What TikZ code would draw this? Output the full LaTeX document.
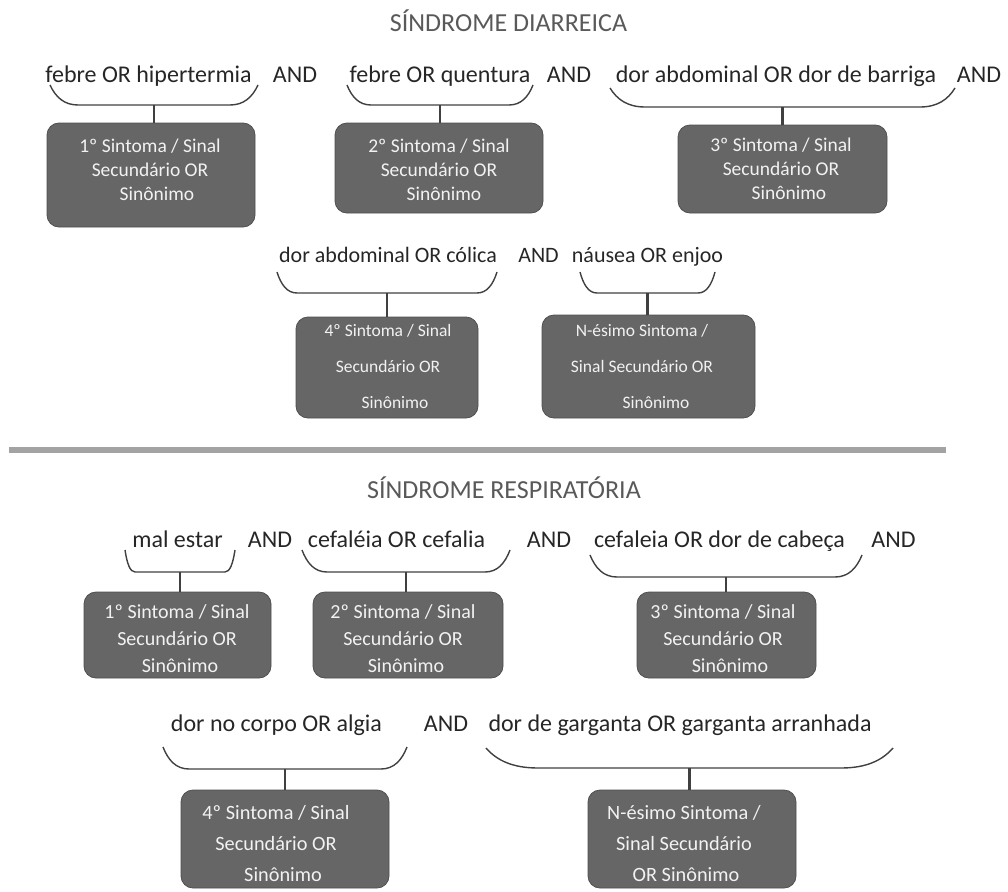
\documentclass[tikz,border=0pt]{standalone}
\usepackage{fontspec}
\setmainfont{Carlito}
\definecolor{boxfill}{HTML}{666666}
\definecolor{boxline}{HTML}{4F4F4F}
\definecolor{inkdark}{HTML}{262626}
\definecolor{titlegray}{HTML}{595959}
\definecolor{linegray}{HTML}{404040}
\definecolor{divgray}{HTML}{A3A3A3}
\definecolor{boxtextc}{HTML}{F2F2F2}
\newcommand\mybrc[6]{%
  \draw[bracel] (#2,#4) .. controls ({#2+0.2*#6},{#4+0.6*(#5-#4)}) and ({#2+0.5*#6},#5) .. ({#2+#6},#5)
     -- ({#3-#6},#5) .. controls ({#3-0.5*#6},#5) and ({#3-0.2*#6},{#4+0.6*(#5-#4)}) .. (#3,#4);
  \coordinate (#1) at ({(#2+#3)/2},#5);}
\begin{document}
\begin{tikzpicture}[x=1pt,y=-1pt,
  lab/.style={font=\fontsize{24}{28}\selectfont, text=inkdark, inner sep=0pt, anchor=base},
  labsmall/.style={lab, font=\fontsize{22}{26}\selectfont},
  ttl/.style={font=\fontsize{26}{30}\selectfont, text=titlegray, inner sep=0pt, anchor=base},
  symbox/.style={draw=boxline, line width=0.8pt, fill=boxfill, rounded corners=12pt, inner sep=0pt},
  boxtext/.style={text=boxtextc, align=center, inner sep=0pt},
  bta/.style={boxtext, font=\fontsize{19.5}{24}\selectfont},
  btb/.style={boxtext, font=\fontsize{17.5}{36}\selectfont},
  btc/.style={boxtext, font=\fontsize{20}{27}\selectfont},
  btd/.style={boxtext, font=\fontsize{20.3}{31}\selectfont},
  bracel/.style={draw=linegray, line width=1.4pt},
  stemline/.style={draw=linegray, line width=2.4pt},
  divider/.style={draw=divgray, line width=6pt}
]
\useasboundingbox (0,0) rectangle (1008,891);

% ---------- Section 1 ----------
\node[ttl] (t1) at (508.5,32) {SÍNDROME DIARREICA};

\node[lab] (l1) at (148.5,82) {febre OR hipertermia};
\node[lab] (a1) at (295,82) {AND};
\node[lab] (l2) at (440,82) {febre OR quentura};
\node[lab] (a2) at (569,82) {AND};
\node[lab] (l3) at (776,82) {dor abdominal OR dor de barriga};
\node[lab] (a3) at (979,82) {AND};

\mybrc{k1}{50}{258}{85}{105}{28}
\mybrc{k2}{347}{533}{85}{105}{24}
\mybrc{k3}{610}{955}{88}{107}{35}

\node[symbox, minimum width=208pt, minimum height=104pt] (b1) at (151,175) {};
\node[symbox, minimum width=208pt, minimum height=90pt] (b2) at (439,168) {};
\node[symbox, minimum width=209pt, minimum height=88pt] (b3) at (782.5,169) {};
\node[bta] (bt1) at (150,170) {1º Sintoma / Sinal\\Secundário OR\\\hspace*{14pt}Sinônimo};
\node[bta] (bt2) at (439,170) {2º Sintoma / Sinal\\Secundário OR\\\hspace*{10pt}Sinônimo};
\node[bta] (bt3) at (781,169) {3º Sintoma / Sinal\\Secundário OR\\\hspace*{16pt}Sinônimo};

\draw[stemline] (k1) -- (k1 |- b1.north);
\draw[stemline] (k2) -- (k2 |- b2.north);
\draw[stemline] (k3) -- (k3 |- b3.north);

\node[labsmall] (l4) at (388,262) {dor abdominal OR cólica};
\node[labsmall] (a4) at (538.5,262) {AND};
\node[labsmall] (l5) at (647.5,262) {náusea OR enjoo};

\mybrc{k4}{277}{497}{272}{293}{20}
\mybrc{k5}{580}{715}{272}{293}{17}

\node[symbox, minimum width=182pt, minimum height=101pt] (b4) at (387,367.5) {};
\node[symbox, minimum width=213pt, minimum height=103pt] (b5) at (648.5,366.5) {};
\node[btb] (bt4) at (388,366) {4º Sintoma / Sinal\\Secundário OR\\\hspace*{14pt}Sinônimo};
\node[btb] (bt5) at (642,366) {N-ésimo Sintoma /\\Sinal Secundário OR\\\hspace*{28pt}Sinônimo};

\draw[stemline] (k4) -- (k4 |- b4.north);
\draw[stemline] (k5) -- (k5 |- b5.north);

% ---------- Divider ----------
\coordinate (dv1) at (9,450);
\coordinate (dv2) at (946,450);
\draw[divider] (dv1) -- (dv2);

% ---------- Section 2 ----------
\node[ttl] (t2) at (504,498) {SÍNDROME RESPIRATÓRIA};

\node[lab] (m1) at (177.5,547) {mal estar};
\node[lab] (n1) at (270,547) {AND};
\node[lab] (m2) at (396.5,547) {cefaléia OR cefalia};
\node[lab] (n2) at (549,547) {AND};
\node[lab] (m3) at (719.5,547) {cefaleia OR dor de cabeça};
\node[lab] (n3) at (893.5,547) {AND};

\mybrc{k6}{125}{235}{550}{572}{10}
\mybrc{k7}{302}{510}{550}{572}{25}
\mybrc{k8}{590}{862}{555}{577}{27}

\node[symbox, minimum width=187pt, minimum height=86pt] (c1) at (177.5,635) {};
\node[symbox, minimum width=190pt, minimum height=86pt] (c2) at (408,635) {};
\node[symbox, minimum width=179pt, minimum height=86pt] (c3) at (726.5,635) {};
\node[btc] (ct1) at (177,639) {1º Sintoma / Sinal\\Secundário OR\\\hspace*{6pt}Sinônimo};
\node[btc] (ct2) at (403,639) {2º Sintoma / Sinal\\Secundário OR\\\hspace*{6pt}Sinônimo};
\node[btc] (ct3) at (723,639) {3º Sintoma / Sinal\\Secundário OR\\\hspace*{14pt}Sinônimo};

\draw[stemline] (k6) -- (k6 |- c1.north);
\draw[stemline] (k7) -- (k7 |- c2.north);
\draw[stemline] (k8) -- (k8 |- c3.north);

\node[lab] (m4) at (276.5,731) {dor no corpo OR algia};
\node[lab] (n4) at (446,731) {AND};
\node[lab] (m5) at (680,731) {dor de garganta OR garganta arranhada};

\mybrc{k9}{163}{407}{747}{769}{26}
\mybrc{k10}{486}{893}{748}{768}{52}

\node[symbox, minimum width=208pt, minimum height=98pt] (c4) at (285,839) {};
\node[symbox, minimum width=208pt, minimum height=98pt] (c5) at (692,839) {};
\node[btd] (ct4) at (276,844) {4º Sintoma / Sinal\\Secundário OR\\\hspace*{14pt}Sinônimo};
\node[btd] (ct5) at (684,844) {N-ésimo Sintoma /\\Sinal Secundário\\\hspace*{4pt}OR Sinônimo};

\draw[stemline] (k9) -- (k9 |- c4.north);
\draw[stemline] (k10) -- (k10 |- c5.north);
\end{tikzpicture}
\end{document}
